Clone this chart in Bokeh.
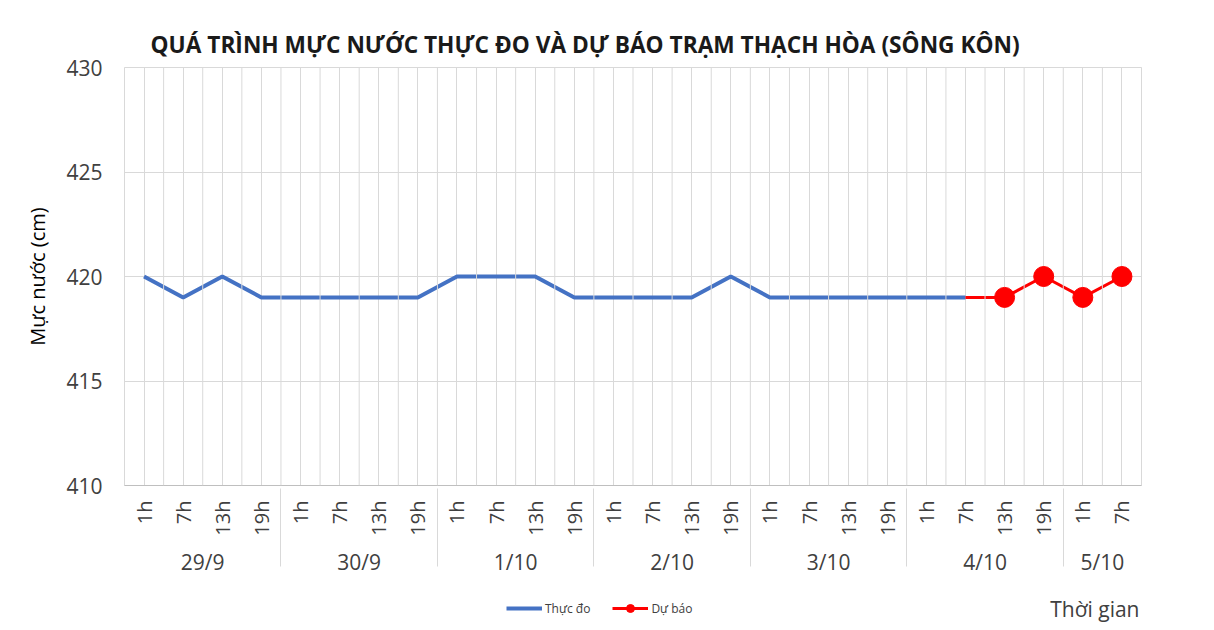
import math
from bokeh.plotting import figure
from bokeh.layouts import column
from bokeh.models import (FactorRange, Span, Legend, LegendItem, FixedTicker, Label, Range1d)
from bokeh.embed import file_html
from bokeh.resources import INLINE

# ---- data ----
dates = ["29/9", "30/9", "1/10", "2/10", "3/10", "4/10", "5/10"]
hours_per_date = [["1h", "7h", "13h", "19h"]] * 6 + [["1h", "7h"]]
observed = [420, 419, 420, 419,
            419, 419, 419, 419,
            420, 420, 420, 419,
            419, 419, 419, 420,
            419, 419, 419, 419,
            419, 419]
forecast_start = ("4/10", "7h")
forecast = [419, 419, 420, 419, 420]
y_ticks = [410, 415, 420, 425, 430]
series_names = ["Thực đo", "Dự báo"]
x_title = "Thời gian"
y_title = "Mực nước (cm)"

factors = [(d, h) for d, hs in zip(dates, hours_per_date) for h in hs]
obs_x = factors[:len(observed)]
fi = factors.index(forecast_start)
fc_x = factors[fi:fi + len(forecast)]

FONT = "Open Sans"
BLUE = "#4472C4"
RED = "#FF0000"
GRID = "#d9d9d9"
TXT = "#404040"
W = 1212
FW = 1017
ML = 124

xr = FactorRange(*factors, factor_padding=0, subgroup_padding=0, group_padding=0, range_padding=0)
p = figure(frame_width=FW, frame_height=418, x_range=xr, y_range=(410, 430),
           output_backend="svg", toolbar_location=None,
           min_border_left=ML, min_border_right=W - ML - FW, min_border_top=67,
           min_border_bottom=105)

p.title.text = "QUÁ TRÌNH MỰC NƯỚC THỰC ĐO VÀ DỰ BÁO TRẠM THẠCH HÒA (SÔNG KÔN)"
p.title.text_font = FONT
p.title.text_font_size = "22.7px"
p.title.text_font_style = "bold"
p.title.text_color = "#1a1a1a"
p.title.align = "left"
p.title.offset = 26
p.title.standoff = 16

p.outline_line_color = GRID
p.background_fill_color = "white"

# grids
p.xgrid.grid_line_color = GRID
p.ygrid.grid_line_color = GRID
p.ygrid.ticker = FixedTicker(ticks=y_ticks)
for i in range(len(factors) + 1):
    p.add_layout(Span(location=i, dimension="height", line_color=GRID, line_width=1))

# y axis
p.yaxis.ticker = FixedTicker(ticks=y_ticks)
p.yaxis.axis_line_color = None
p.yaxis.major_tick_line_color = None
p.yaxis.minor_tick_line_color = None
p.yaxis.major_label_text_font = FONT
p.yaxis.major_label_text_font_size = "21px"
p.yaxis.major_label_text_color = TXT
p.yaxis.major_label_standoff = 16
p.yaxis.axis_label = y_title
p.yaxis.axis_label_text_font = FONT
p.yaxis.axis_label_text_font_size = "20px"
p.yaxis.axis_label_text_font_style = "normal"
p.yaxis.axis_label_text_color = "#000000"
p.yaxis.axis_label_standoff = 12

# x axis
p.xaxis.axis_line_color = "#bfbfbf"
p.xaxis.major_tick_line_color = None
p.xaxis.minor_tick_line_color = None
p.xaxis.major_label_orientation = math.pi / 2
p.xaxis.major_label_text_font = FONT
p.xaxis.major_label_text_font_size = "20px"
p.xaxis.major_label_text_color = TXT
p.xaxis.major_label_standoff = 9
p.xaxis.group_text_font = FONT
p.xaxis.group_text_font_size = "21px"
p.xaxis.group_text_color = TXT
p.xaxis.group_text_font_style = "normal"
p.xaxis.separator_line_color = GRID
p.xaxis.separator_line_width = 1

# data
p.line(x=obs_x, y=observed, line_color=BLUE, line_width=4)
p.line(x=fc_x, y=forecast, line_color=RED, line_width=3)
p.scatter(x=fc_x[1:], y=forecast[1:], size=20, color=RED)

# bottom strip: legend + x title (frame aligned with the main frame)
H2 = 38
p2 = figure(frame_width=FW, frame_height=H2, x_range=Range1d(0, FW), y_range=Range1d(0, H2),
            output_backend="svg", toolbar_location=None,
            min_border_left=ML, min_border_right=W - ML - FW, min_border_top=0, min_border_bottom=0)
p2.axis.visible = False
p2.grid.visible = False
p2.outline_line_color = None
nan = float("nan")
l_obs = p2.line(x=[nan], y=[nan], line_color=BLUE, line_width=4)
l_fc = p2.line(x=[nan], y=[nan], line_color=RED, line_width=3)
l_fm = p2.scatter(x=[nan], y=[nan], size=5, color=RED)
legend = Legend(items=[LegendItem(label=series_names[0], renderers=[l_obs]),
                       LegendItem(label=series_names[1], renderers=[l_fc, l_fm])],
                orientation="horizontal", location=(506 - ML, 10),
                label_text_font=FONT, label_text_font_size="12px", label_text_color=TXT,
                border_line_color=None, background_fill_alpha=0,
                padding=0, margin=0, label_standoff=3,
                glyph_width=36, spacing=22)
p2.add_layout(legend)
p2.add_layout(Label(x=FW - 2, y=H2 - 18, text=x_title, text_font=FONT, text_font_size="21px",
                    text_color=TXT, text_baseline="middle", text_align="right"))

layout = column(p, p2, spacing=0)

open("out.html", "w").write(file_html(layout, INLINE))
